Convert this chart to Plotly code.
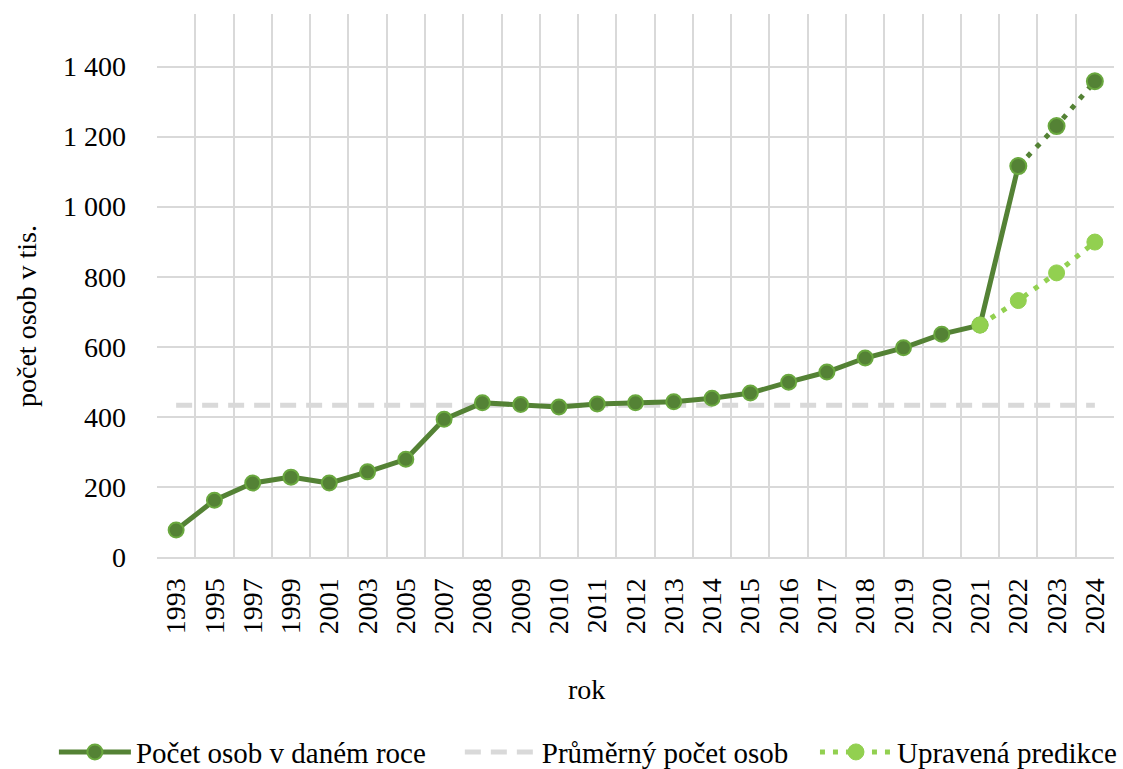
import plotly.graph_objects as go

years = ["1993", "1995", "1997", "1999", "2001", "2003", "2005", "2007", "2008", "2009",
         "2010", "2011", "2012", "2013", "2014", "2015", "2016", "2017", "2018", "2019",
         "2020", "2021", "2022", "2023", "2024"]
counts = [77, 162, 211, 228, 211, 243, 279, 393, 440, 435,
          428, 437, 440, 443, 453, 468, 499, 528, 568, 597,
          636, 662, 1116]
count_forecast_years = ["2022", "2023", "2024"]
count_forecast = [1116, 1230, 1358]
mean_value = 433
pred_years = ["2021", "2022", "2023", "2024"]
pred_values = [662, 732, 811, 899]

y_ticks = [0, 200, 400, 600, 800, 1000, 1200, 1400]
y_ticktext = ["0", "200", "400", "600", "800", "1 000", "1 200", "1 400"]

DARK = "#548235"
RING = "#6aa83f"
LIGHT = "#92d050"
GRID = "#d9d9d9"
FONT = "Liberation Serif"
PAD = "\u00a0" * 4

fig = go.Figure()

fig.add_trace(go.Scatter(
    x=years, y=[mean_value] * len(years), mode="lines",
    name="Průměrný počet osob",
    line=dict(color=GRID, width=5, dash="16px,10px"),
    legendrank=2, legend="legend",
))

fig.add_trace(go.Scatter(
    x=years[:len(counts)], y=counts, mode="lines+markers",
    name="Počet osob v daném roce" + PAD,
    line=dict(color=DARK, width=5),
    marker=dict(size=15, color=DARK, line=dict(color=RING, width=2)),
    legendrank=1, legend="legend",
))

fig.add_trace(go.Scatter(
    x=count_forecast_years, y=count_forecast, mode="lines+markers",
    showlegend=False,
    line=dict(color=DARK, width=5, dash="5px,8px"),
    marker=dict(size=16, color=DARK, line=dict(color=RING, width=2)),
))

fig.add_trace(go.Scatter(
    x=pred_years, y=pred_values, mode="lines+markers",
    name="Upravená predikce",
    line=dict(color=LIGHT, width=5, dash="5px,8px"),
    marker=dict(size=16, color=LIGHT, line=dict(color=LIGHT, width=1)),
    legend="legend2",
))

legend_common = dict(
    orientation="h", xref="container", yref="container",
    xanchor="left", y=0.022, yanchor="middle",
    font=dict(family=FONT, size=29, color="black"),
    itemwidth=72, tracegroupgap=0, bgcolor="rgba(0,0,0,0)",
)

fig.update_layout(
    width=1123, height=769,
    margin=dict(l=157, r=9, t=14, b=212),
    paper_bgcolor="white", plot_bgcolor="white",
    font=dict(family=FONT, size=28, color="black"),
    showlegend=True,
    legend=dict(x=0.048, **legend_common),
    legend2=dict(x=0.7257, **legend_common),
    xaxis=dict(
        type="category", categoryorder="array", categoryarray=years,
        range=[-0.5, len(years) - 0.5],
        tickson="boundaries", showgrid=True, gridcolor=GRID, gridwidth=2,
        ticks="", tickangle=-90, ticklabelstandoff=8,
        showline=True, linecolor=GRID, linewidth=2, mirror=False,
        zeroline=False,
        tickfont=dict(family=FONT, size=28),
    ),
    yaxis=dict(
        range=[0, 1550], tickmode="array", tickvals=y_ticks, ticktext=y_ticktext,
        showgrid=True, gridcolor=GRID, gridwidth=2, zeroline=False,
        ticks="", ticklabelstandoff=30, showline=False,
        tickfont=dict(family=FONT, size=28),
    ),
    annotations=[
        dict(text="počet osob v tis.", xref="paper", yref="paper",
             x=-0.1369, y=0.4438, xanchor="center", yanchor="middle",
             textangle=-90, showarrow=False, font=dict(family=FONT, size=28)),
        dict(text="rok", xref="paper", yref="paper",
             x=0.4493, y=-0.2431, xanchor="center", yanchor="middle",
             showarrow=False, font=dict(family=FONT, size=28)),
    ],
)

fig.write_html("out.html", config={"displayModeBar": False},
               post_script="document.body.style.margin='0';")
